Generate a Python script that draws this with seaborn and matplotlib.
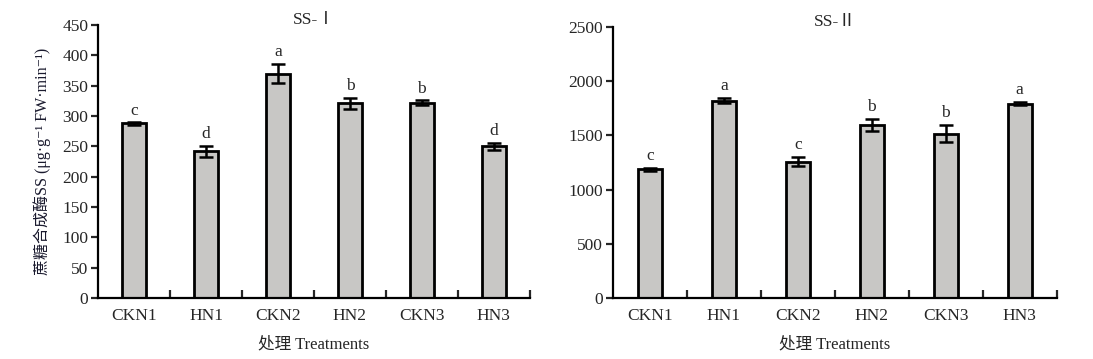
import pandas as pd
import seaborn as sns
import matplotlib
matplotlib.use("Agg")
from matplotlib import pyplot as plt
from matplotlib.ticker import FixedLocator

treatments = ["CKN1", "HN1", "CKN2", "HN2", "CKN3", "HN3"]

ss1_mean = [288, 242, 370, 321, 322, 250]
ss1_err = [2, 9, 16, 9, 4, 6]
ss1_letters = ["c", "d", "a", "b", "b", "d"]

ss2_mean = [1187, 1820, 1258, 1599, 1516, 1793]
ss2_err = [12, 25, 45, 55, 80, 12]
ss2_letters = ["c", "a", "c", "b", "b", "a"]

sns.set_style("white")
plt.rcParams['font.family'] = ['Liberation Serif', 'Noto Sans CJK SC', 'DejaVu Sans']

fig = plt.figure(figsize=(10.93, 3.59), dpi=100)
ax1 = fig.add_axes([0.0897, 0.170, 0.395, 0.760])
ax2 = fig.add_axes([0.5608, 0.170, 0.406, 0.755])


def panel(ax, means, errs, letters, title, ymax, ystep, pad):
    df = pd.DataFrame({"treatment": treatments, "value": means})
    sns.barplot(data=df, x="treatment", y="value", color="#c8c7c5", width=0.33,
                edgecolor="black", linewidth=2.0, saturation=1, ax=ax)
    ax.errorbar(range(len(treatments)), means, yerr=errs, fmt="none",
                ecolor="black", elinewidth=1.8, capsize=5, capthick=1.8)
    for i, (m, e, l) in enumerate(zip(means, errs, letters)):
        ax.text(i, m + e + pad, l, ha="center", va="bottom", fontsize=12.5)
    ax.set_xlim(-0.5, len(treatments) - 0.5)
    ax.set_ylim(0, ymax)
    ax.set_yticks(range(0, ymax + 1, ystep))
    ax.set_title(title, fontsize=12.5, pad=1)
    ax.set_xlabel("处理 Treatments", fontsize=12, labelpad=9)
    ax.set_ylabel("")
    for s in ["top", "right"]:
        ax.spines[s].set_visible(False)
    for s in ["left", "bottom"]:
        ax.spines[s].set_linewidth(1.6)
        ax.spines[s].set_color("black")
    ax.tick_params(axis="y", direction="out", length=5, width=1.6,
                   labelsize=12.5, left=True, pad=2)
    ax.tick_params(axis="x", which="major", length=0, labelsize=12.5, pad=7)
    ax.xaxis.set_minor_locator(FixedLocator([i + 0.5 for i in range(len(treatments))]))
    ax.tick_params(axis="x", which="minor", direction="in", length=6, width=1.6,
                   bottom=True)


panel(ax1, ss1_mean, ss1_err, ss1_letters, "SS-Ⅰ", 450, 50, 6)
panel(ax2, ss2_mean, ss2_err, ss2_letters, "SS-Ⅱ", 2500, 500, 35)

ax1.set_ylabel("蔗糖合成酶SS (μg·g⁻¹ FW·min⁻¹)", fontsize=11.5,
               color="#1a1a2e", labelpad=8)

fig.savefig("out.png", dpi=100)
